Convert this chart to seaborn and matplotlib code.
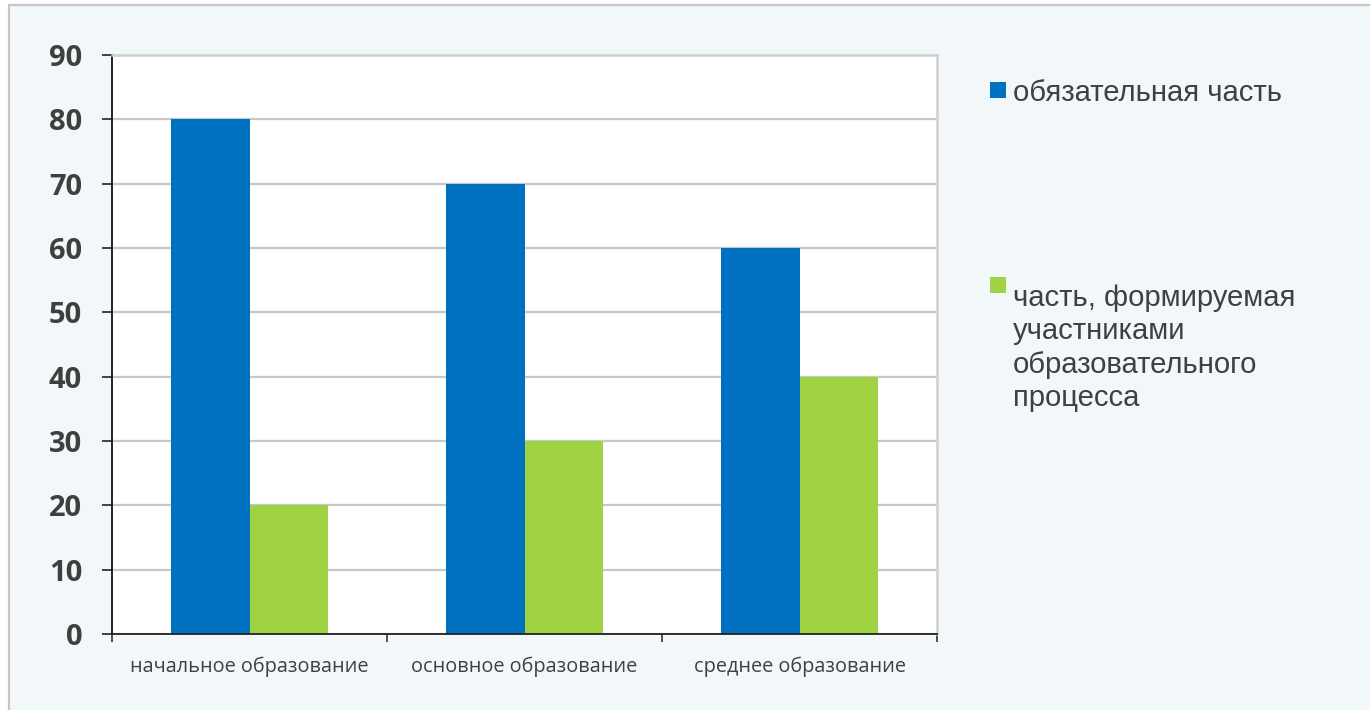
import matplotlib
matplotlib.use("Agg")
import matplotlib.pyplot as plt
from matplotlib.patches import Rectangle
import seaborn as sns
import pandas as pd

categories = ["начальное образование", "основное образование", "среднее образование"]
series_names = ["обязательная часть",
                "часть, формируемая\nучастниками\nобразовательного\nпроцесса"]
mandatory = [80, 70, 60]
formed = [20, 30, 40]
yticks = [0, 10, 20, 30, 40, 50, 60, 70, 80, 90]
colors = ["#0070c0", "#a0d343"]

rows = []
for c, v in zip(categories, mandatory):
    rows.append({"level": c, "value": v, "part": series_names[0]})
for c, v in zip(categories, formed):
    rows.append({"level": c, "value": v, "part": series_names[1]})
df = pd.DataFrame(rows)

sns.set_theme(style="white")
plt.rcParams["font.family"] = ["Open Sans", "DejaVu Sans"]

W, H = 1370, 710
fig = plt.figure(figsize=(W / 100, H / 100), dpi=100, facecolor="white")

def fx(px):
    return px / W

def fy(py):
    return (H - py) / H

# panel background with border
fig.patches.append(Rectangle((fx(9), fy(H + 5)), fx(W + 10), 1.0,
                             transform=fig.transFigure, facecolor="#f2f7fa",
                             edgecolor="#c6c6c6", linewidth=1.6, zorder=-10))

ax = fig.add_axes([fx(112), fy(634), fx(937) - fx(112), fy(55) - fy(634)])
ax.set_facecolor("white")

sns.barplot(data=df, x="level", y="value", hue="part", order=categories,
            hue_order=series_names, palette=colors, saturation=1,
            width=0.57, gap=0, legend=False, ax=ax, edgecolor="none", linewidth=0)

ax.set_xlim(-0.5, len(categories) - 0.5)
ax.set_ylim(0, 90)
ax.set_yticks(yticks)
ax.yaxis.grid(True, color="#c8c8c8", linewidth=1.6)
ax.set_axisbelow(True)
ax.set_xlabel("")
ax.set_ylabel("")

for lab in ax.get_yticklabels():
    lab.set_fontweight("bold")
ax.tick_params(axis="y", which="major", length=7.5, width=1.2, color="#222222",
               pad=14, labelsize=21, labelcolor="#3f3f3f", left=True)
ax.tick_params(axis="x", which="major", length=0, pad=16, labelsize=14.3,
               labelcolor="#404040", bottom=True)
ax.set_xticks([i - 0.5 for i in range(len(categories) + 1)], minor=True)
ax.tick_params(axis="x", which="minor", length=6, width=1.2, color="#333333", bottom=True)

for side in ["top", "right"]:
    ax.spines[side].set_color("#cfcfcf")
    ax.spines[side].set_linewidth(1.8)
ax.spines["left"].set_color("#111111")
ax.spines["left"].set_linewidth(1.3)
ax.spines["bottom"].set_color("#222222")
ax.spines["bottom"].set_linewidth(1.3)

# legend
leg_font = ["Liberation Sans", "DejaVu Sans"]
fig.patches.append(Rectangle((fx(990), fy(98)), fx(16), 16 / H, transform=fig.transFigure,
                             facecolor=colors[0], edgecolor="none"))
fig.text(fx(1013), fy(101), series_names[0], family=leg_font, fontsize=21.1,
         color="#404040", va="baseline", ha="left")
fig.patches.append(Rectangle((fx(990), fy(293)), fx(16), 16 / H, transform=fig.transFigure,
                             facecolor=colors[1], edgecolor="none"))
fig.text(fx(1013), fy(406), series_names[1], family=leg_font, fontsize=21.1,
         color="#404040", va="baseline", ha="left", linespacing=1.24)

fig.savefig("out.png", dpi=100, facecolor="white")
